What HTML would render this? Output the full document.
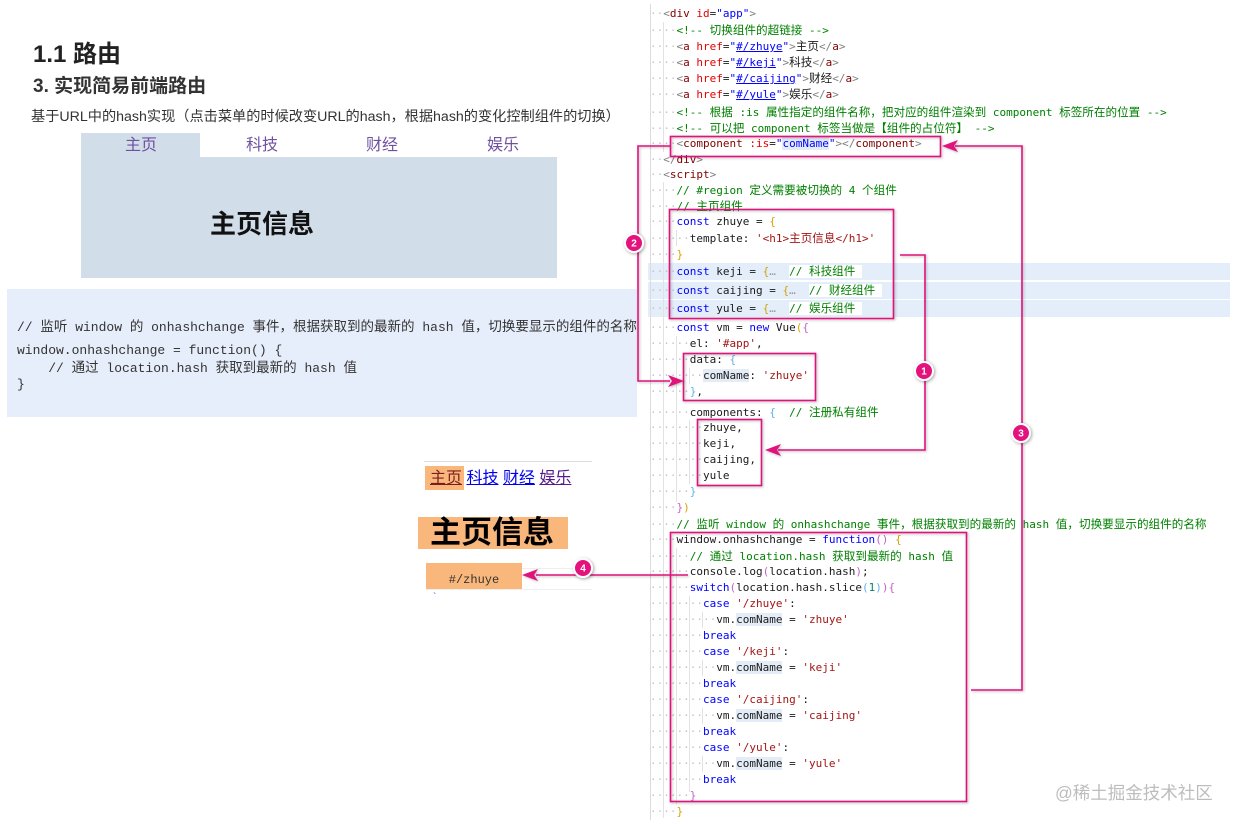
<!DOCTYPE html>
<html><head><meta charset="utf-8">
<style>
*{margin:0;padding:0;box-sizing:border-box}
body{width:1238px;height:827px;background:#fff;position:relative;overflow:hidden;font-family:"Liberation Sans","Noto Sans CJK SC",sans-serif;color:#333}
.abs{position:absolute}
.cl{position:absolute;left:650px;height:16px;line-height:16px;font-family:"DejaVu Sans Mono","Liberation Mono","Noto Sans CJK SC",monospace;font-size:11px;white-space:pre;color:#1a1a1a}
.cl i{font-style:normal;color:#c4c4c4}
.z{font-size:11.6px;font-family:"Noto Sans CJK SC",sans-serif}
.p{color:#808080}.t{color:#800000}.a{color:#e50000}.s{color:#0000ff}
.c{color:#008000}.k{color:#0000ff}.r{color:#a31515}
.g{color:#d4a400}.o{color:#c75fc7}.b{color:#5fb2e8}.n{color:#098658}
.h{background:#e4edf7}
.e{color:#999}
.lc{position:absolute;left:17px;font-family:"Liberation Mono","Noto Sans CJK SC",monospace;font-size:13px;white-space:pre;color:#333;line-height:18px}
.lc .z2{font-family:"Liberation Sans","Noto Sans CJK SC",sans-serif;font-size:13.5px}
.tab{position:absolute;top:135px;width:120px;text-align:center;font-size:16px;line-height:22px;color:#6f51a0}
.band{position:absolute;left:648px;width:582px;height:17px;background:#e4eefa}
.vg{position:absolute;width:1px;background:#e2e2e2}
</style></head><body>

<!-- LEFT: headings -->
<div class="abs" style="left:33px;top:40px;font-size:24px;font-weight:bold;color:#222;line-height:30px">1.1 路由</div>
<div class="abs" style="left:33px;top:76px;font-size:19px;font-weight:bold;color:#333;line-height:22px">3. 实现简易前端路由</div>
<div class="abs" style="left:31px;top:108px;font-size:14.2px;line-height:18px;color:#333;white-space:nowrap">基于URL中的hash实现（点击菜单的时候改变URL的hash，根据hash的变化控制组件的切换）</div>

<!-- tab box -->
<div class="abs" style="left:81px;top:133px;width:119px;height:25px;background:#d1dde9"></div>
<div class="abs" style="left:81px;top:157px;width:476px;height:121px;background:#d1dde9"></div>
<div class="tab" style="left:81px">主页</div>
<div class="tab" style="left:202px">科技</div>
<div class="tab" style="left:322px">财经</div>
<div class="tab" style="left:443px">娱乐</div>
<div class="abs" style="left:210px;top:209px;font-size:26px;font-weight:bold;color:#111;line-height:30px">主页信息</div>

<!-- left code block -->
<div class="abs" style="left:7px;top:289px;width:630px;height:128px;background:#e7eefb;overflow:hidden">
<div class="lc" style="left:10px;top:29px">// <span class="z2">监听</span> window <span class="z2">的</span> onhashchange <span class="z2">事件，根据获取到的最新的</span> hash <span class="z2">值，切换要显示的组件的名称</span></div>
<div class="lc" style="left:10px;top:53px">window.onhashchange = function() {</div>
<div class="lc" style="left:10px;top:70px">    // <span class="z2">通过</span> location.hash <span class="z2">获取到最新的</span> hash <span class="z2">值</span></div>
<div class="lc" style="left:10px;top:87px">}</div>
</div>

<!-- browser preview -->
<div class="abs" style="left:424px;top:461px;width:168px;height:1px;background:#ddd"></div>
<div class="abs" style="left:425px;top:466px;width:39px;height:24px;background:#fab77b"></div>
<div class="abs" style="left:430px;top:469px;font-size:16px;line-height:20px;white-space:pre"><span style="color:#7a1f1f;text-decoration:underline">主页</span> <span style="color:#0000ee;text-decoration:underline">科技</span> <span style="color:#0000ee;text-decoration:underline">财经</span> <span style="color:#551a8b;text-decoration:underline">娱乐</span></div>
<div class="abs" style="left:418px;top:517px;width:150px;height:32px;background:#fab77b"></div>
<div class="abs" style="left:430px;top:515px;font-size:31px;font-weight:bold;color:#000;line-height:36px">主页信息</div>
<div class="abs" style="left:522px;top:568px;width:70px;height:1px;background:#eee"></div>
<div class="abs" style="left:426px;top:563px;width:96px;height:27px;background:#fab77b"></div>
<div class="abs" style="left:426px;top:572px;width:96px;text-align:center;font-family:'Liberation Mono',monospace;font-size:12px;line-height:16px;color:#333">#/zhuye</div>
<div class="abs" style="left:426px;top:589px;width:166px;height:1px;background:#eee"></div>
<div class="abs" style="left:433px;top:592px;font-size:10px;color:#3060c0">`</div>

<!-- code editor background details -->
<div class="band" style="top:263px"></div>
<div class="band" style="top:282px"></div>
<div class="band" style="top:300px"></div>
<div class="vg" style="left:650px;top:4px;height:816px;background:#dcdcdc"></div>
<div class="vg" style="left:663px;top:22px;height:130px"></div>
<div class="vg" style="left:663px;top:182px;height:636px"></div>
<div class="vg" style="left:676px;top:230px;height:16px"></div>
<div class="vg" style="left:676px;top:336px;height:166px"></div>
<div class="vg" style="left:676px;top:548px;height:256px"></div>
<div class="vg" style="left:689px;top:368px;height:16px"></div>
<div class="vg" style="left:689px;top:420px;height:64px"></div>
<div class="vg" style="left:689px;top:596px;height:196px"></div>
<div class="vg" style="left:702px;top:612px;height:16px"></div>
<div class="vg" style="left:702px;top:660px;height:16px"></div>
<div class="vg" style="left:702px;top:708px;height:16px"></div>
<div class="vg" style="left:702px;top:756px;height:16px"></div>

<!-- code lines -->
<div class="cl" style="top:6px"><i>··</i><span class="p">&lt;</span><span class="t">div</span> <span class="a">id</span>=<span class="s">"app"</span><span class="p">&gt;</span></div>
<div class="cl" style="top:22px"><i>····</i><span class="c">&lt;!-- <span class="z">切换组件的超链接</span> --&gt;</span></div>
<div class="cl" style="top:38px"><i>····</i><span class="p">&lt;</span><span class="t">a</span> <span class="a">href</span>=<span class="s">"<u>#/zhuye</u>"</span><span class="p">&gt;</span><span class="z">主页</span><span class="p">&lt;/</span><span class="t">a</span><span class="p">&gt;</span></div>
<div class="cl" style="top:54px"><i>····</i><span class="p">&lt;</span><span class="t">a</span> <span class="a">href</span>=<span class="s">"<u>#/keji</u>"</span><span class="p">&gt;</span><span class="z">科技</span><span class="p">&lt;/</span><span class="t">a</span><span class="p">&gt;</span></div>
<div class="cl" style="top:70px"><i>····</i><span class="p">&lt;</span><span class="t">a</span> <span class="a">href</span>=<span class="s">"<u>#/caijing</u>"</span><span class="p">&gt;</span><span class="z">财经</span><span class="p">&lt;/</span><span class="t">a</span><span class="p">&gt;</span></div>
<div class="cl" style="top:86px"><i>····</i><span class="p">&lt;</span><span class="t">a</span> <span class="a">href</span>=<span class="s">"<u>#/yule</u>"</span><span class="p">&gt;</span><span class="z">娱乐</span><span class="p">&lt;/</span><span class="t">a</span><span class="p">&gt;</span></div>
<div class="cl" style="top:104px"><i>····</i><span class="c">&lt;!-- <span class="z">根据</span> :is <span class="z">属性指定的组件名称，把对应的组件渲染到</span> component <span class="z">标签所在的位置</span> --&gt;</span></div>
<div class="cl" style="top:120px"><i>····</i><span class="c">&lt;!-- <span class="z">可以把</span> component <span class="z">标签当做是【组件的占位符】</span> --&gt;</span></div>
<div class="cl" style="top:136px"><i>····</i><span class="p">&lt;</span><span class="t">component</span> <span class="a">:is</span>=<span class="s">"<span class="h">comName</span>"</span><span class="p">&gt;&lt;/</span><span class="t">component</span><span class="p">&gt;</span></div>
<div class="cl" style="top:152px"><i>··</i><span class="p">&lt;/</span><span class="t">div</span><span class="p">&gt;</span></div>
<div class="cl" style="top:167px"><i>··</i><span class="p">&lt;</span><span class="t">script</span><span class="p">&gt;</span></div>
<div class="cl" style="top:182px"><i>····</i><span class="c">// #region <span class="z">定义需要被切换的</span> 4 <span class="z">个组件</span></span></div>
<div class="cl" style="top:198px"><i>····</i><span class="c">// <span class="z">主页组件</span></span></div>
<div class="cl" style="top:214px"><i>····</i><span class="k">const</span> zhuye = <span class="g">{</span></div>
<div class="cl" style="top:230px"><i>······</i>template: <span class="r">'&lt;h1&gt;<span class="z">主页信息</span>&lt;/h1&gt;'</span></div>
<div class="cl" style="top:247px"><i>····</i><span class="g">}</span></div>
<div class="cl" style="top:263px"><i>····</i><span class="k">const</span> keji = <span class="g">{</span><span class="e">…</span>  <span class="c" style="background:#fff">// <span class="z">科技组件</span> </span></div>
<div class="cl" style="top:282px"><i>····</i><span class="k">const</span> caijing = <span class="g">{</span><span class="e">…</span>  <span class="c" style="background:#fff">// <span class="z">财经组件</span> </span></div>
<div class="cl" style="top:300px"><i>····</i><span class="k">const</span> yule = <span class="g">{</span><span class="e">…</span>  <span class="c" style="background:#fff">// <span class="z">娱乐组件</span> </span></div>
<div class="cl" style="top:320px"><i>····</i><span class="k">const</span> vm = <span class="k">new</span> Vue<span class="g">(</span><span class="o">{</span></div>
<div class="cl" style="top:336px"><i>······</i>el: <span class="r">'#app'</span>,</div>
<div class="cl" style="top:352px"><i>······</i>data: <span class="b">{</span></div>
<div class="cl" style="top:368px"><i>········</i><span class="h">comName</span>: <span class="r">'zhuye'</span></div>
<div class="cl" style="top:384px"><i>······</i><span class="b">}</span>,</div>
<div class="cl" style="top:404px"><i>······</i>components: <span class="b">{</span>  <span class="c">// <span class="z">注册私有组件</span></span></div>
<div class="cl" style="top:420px"><i>········</i>zhuye,</div>
<div class="cl" style="top:436px"><i>········</i>keji,</div>
<div class="cl" style="top:452px"><i>········</i>caijing,</div>
<div class="cl" style="top:468px"><i>········</i>yule</div>
<div class="cl" style="top:484px"><i>······</i><span class="b">}</span></div>
<div class="cl" style="top:500px"><i>····</i><span class="o">}</span><span class="g">)</span></div>
<div class="cl" style="top:516px"><i>····</i><span class="c">// <span class="z">监听</span> window <span class="z">的</span> onhashchange <span class="z">事件，根据获取到的最新的</span> hash <span class="z">值，切换要显示的组件的名称</span></span></div>
<div class="cl" style="top:532px"><i>····</i>window.onhashchange = <span class="k">function</span><span class="o">()</span> <span class="g">{</span></div>
<div class="cl" style="top:548px"><i>······</i><span class="c">// <span class="z">通过</span> location.hash <span class="z">获取到最新的</span> hash <span class="z">值</span></span></div>
<div class="cl" style="top:564px"><i>······</i>console.log<span class="o">(</span>location.hash<span class="o">)</span>;</div>
<div class="cl" style="top:580px"><i>······</i><span class="k">switch</span><span class="o">(</span>location.hash.slice<span class="b">(</span><span class="n">1</span><span class="b">)</span><span class="o">){</span></div>
<div class="cl" style="top:596px"><i>········</i><span class="k">case</span> <span class="r">'/zhuye'</span>:</div>
<div class="cl" style="top:612px"><i>··········</i>vm.<span class="h">comName</span> = <span class="r">'zhuye'</span></div>
<div class="cl" style="top:628px"><i>········</i><span class="k">break</span></div>
<div class="cl" style="top:644px"><i>········</i><span class="k">case</span> <span class="r">'/keji'</span>:</div>
<div class="cl" style="top:660px"><i>··········</i>vm.<span class="h">comName</span> = <span class="r">'keji'</span></div>
<div class="cl" style="top:676px"><i>········</i><span class="k">break</span></div>
<div class="cl" style="top:692px"><i>········</i><span class="k">case</span> <span class="r">'/caijing'</span>:</div>
<div class="cl" style="top:708px"><i>··········</i>vm.<span class="h">comName</span> = <span class="r">'caijing'</span></div>
<div class="cl" style="top:724px"><i>········</i><span class="k">break</span></div>
<div class="cl" style="top:740px"><i>········</i><span class="k">case</span> <span class="r">'/yule'</span>:</div>
<div class="cl" style="top:756px"><i>··········</i>vm.<span class="h">comName</span> = <span class="r">'yule'</span></div>
<div class="cl" style="top:772px"><i>········</i><span class="k">break</span></div>
<div class="cl" style="top:788px"><i>······</i><span class="o">}</span></div>
<div class="cl" style="top:804px"><i>····</i><span class="g">}</span></div>

<!-- watermark -->
<div class="abs" style="left:1055px;top:782px;font-size:17.5px;line-height:22px;color:#bdbdbd;white-space:nowrap">@稀土掘金技术社区</div>

<!-- annotations -->
<svg class="abs" style="left:0;top:0" width="1238" height="827" viewBox="0 0 1238 827">
  <g fill="none" stroke="#e2127c" stroke-width="1.6" style="filter:drop-shadow(1px 1.5px 1.2px rgba(0,0,0,0.28))">
    <rect x="670.5" y="136.5" width="270" height="20"/>
    <rect x="669.5" y="209.5" width="224" height="109"/>
    <rect x="683.5" y="353.5" width="132" height="47"/>
    <rect x="697.5" y="419.5" width="64" height="66"/>
    <rect x="670.5" y="532.5" width="296" height="269"/>
    <polyline points="670,146 638,146 638,381 670,381"/>
    <polyline points="900,255 925,255 925,450 778,450"/>
    <polyline points="971,690 1022,690 1022,146 955,146"/>
    <polyline points="688,575 536,575"/>
  </g>
  <g fill="#e2127c" style="filter:drop-shadow(1px 1.5px 1.2px rgba(0,0,0,0.28))">
    <polygon points="684,381 668,375 672,381 668,387"/>
    <polygon points="765,450 781,444 777,450 781,456"/>
    <polygon points="942,146 958,140 954,146 958,152"/>
    <polygon points="522,575 538,569 534,575 538,581"/>
  </g>
  <g style="filter:drop-shadow(1px 1.5px 1.5px rgba(0,0,0,0.35))" font-family="Liberation Sans, sans-serif" font-weight="bold" font-size="10" fill="#fff" text-anchor="middle">
    <circle cx="924" cy="371" r="9" fill="#e5127d" stroke="#fff" stroke-width="2"/>
    <text x="924" y="374.5">1</text>
    <circle cx="634" cy="243" r="9" fill="#e5127d" stroke="#fff" stroke-width="2"/>
    <text x="634" y="246.5">2</text>
    <circle cx="1021" cy="433" r="9" fill="#e5127d" stroke="#fff" stroke-width="2"/>
    <text x="1021" y="436.5">3</text>
    <circle cx="583" cy="568" r="9" fill="#e5127d" stroke="#fff" stroke-width="2"/>
    <text x="583" y="571.5">4</text>
  </g>
</svg>

</body></html>
